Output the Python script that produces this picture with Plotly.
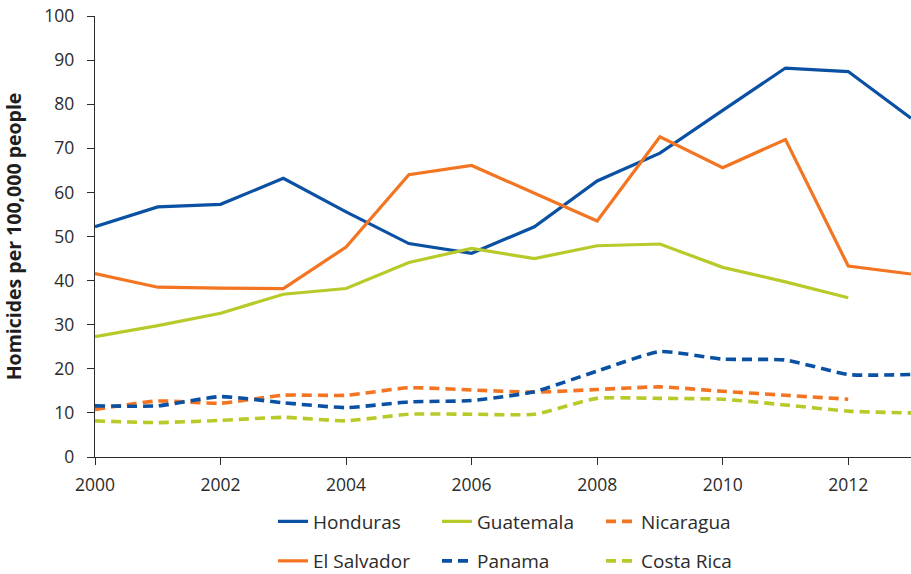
import plotly.graph_objects as go

years = list(range(2000, 2014))

honduras = [52.2, 56.7, 57.3, 63.2, 55.6, 48.4, 46.2, 52.2, 62.6, 68.9, 78.6, 88.2, 87.4, 76.8]
el_salvador = [41.6, 38.5, 38.3, 38.2, 47.6, 64.0, 66.1, 59.8, 53.5, 72.6, 65.6, 72.0, 43.3, 41.5]
guatemala = [27.3, 29.8, 32.6, 36.9, 38.2, 44.1, 47.3, 45.0, 47.9, 48.3, 43.0, 39.7, 36.1, None]
nicaragua = [10.8, 12.7, 12.2, 14.0, 14.0, 15.7, 15.2, 14.7, 15.3, 15.9, 14.9, 14.0, 13.1, None]
panama = [11.6, 11.6, 13.7, 12.3, 11.2, 12.5, 12.8, 14.8, 19.5, 23.9, 22.2, 22.0, 18.7, 18.7]
costa_rica = [8.2, 7.8, 8.3, 9.0, 8.2, 9.7, 9.7, 9.7, 13.3, 13.3, 13.1, 11.8, 10.4, 10.0]

x_ticks = [2000, 2002, 2004, 2006, 2008, 2010, 2012]
y_ticks = [0, 10, 20, 30, 40, 50, 60, 70, 80, 90, 100]

BLUE = "#0a51a3"
ORANGE = "#f37521"
GREEN = "#b8ca2a"
FONT = "Open Sans"
TXT = "#2b2b2b"

W, H = 911, 574

fig = go.Figure()

def add(name, vals, color, dashed, legend):
    line = dict(color=color, width=3.2)
    if dashed:
        line.update(dash="10px,6px", width=3.6, shape="spline", smoothing=0.5)
    fig.add_trace(go.Scatter(x=years, y=vals, name=name, mode="lines",
                             line=line, legend=legend, connectgaps=False))

add("Honduras", honduras, BLUE, False, "legend")
add("Guatemala", guatemala, GREEN, False, "legend")
add("Nicaragua", nicaragua, ORANGE, True, "legend")
add("El Salvador", el_salvador, ORANGE, False, "legend2")
add("Panama", panama, BLUE, True, "legend2")
add("Costa Rica", costa_rica, GREEN, True, "legend2")

legend_common = dict(orientation="h", xref="container", yref="container",
                     x=273 / W, xanchor="left", yanchor="middle",
                     entrywidth=119, entrywidthmode="pixels",
                     font=dict(family=FONT, size=19, color=TXT),
                     bgcolor="rgba(0,0,0,0)", traceorder="normal")

fig.update_layout(
    width=W, height=H,
    margin=dict(l=95, r=0, t=16, b=H - 457),
    plot_bgcolor="white", paper_bgcolor="white",
    font=dict(family=FONT, size=17, color=TXT),
    legend=dict(legend_common, y=(H - 521.5) / H),
    legend2=dict(legend_common, y=(H - 561) / H),
    xaxis=dict(range=[2000, 2013], tickvals=x_ticks, ticktext=[str(v) for v in x_ticks],
               showgrid=False, zeroline=False, showline=True, linecolor=TXT,
               linewidth=1.3, ticks="outside", ticklen=7, tickcolor=TXT, tickwidth=1.3,
               ticklabelstandoff=5,
               tickfont=dict(family=FONT, size=17.5, color=TXT)),
    yaxis=dict(range=[0, 100], tickvals=y_ticks, showgrid=False, zeroline=False,
               showline=True, linecolor=TXT, linewidth=1.3, ticks="outside",
               ticklen=7, tickcolor=TXT, tickwidth=1.3, ticklabelstandoff=9,
               tickfont=dict(family=FONT, size=17.5, color=TXT),
               title=dict(text="<b>Homicides per 100,000 people</b>",
                          font=dict(family=FONT, size=19.5, color="#1e1e1e"), standoff=24)),
)

fig.write_html(
    "out.html",
    config={"displayModeBar": False},
    post_script="document.body.style.margin='0';document.body.style.overflow='hidden';",
)
